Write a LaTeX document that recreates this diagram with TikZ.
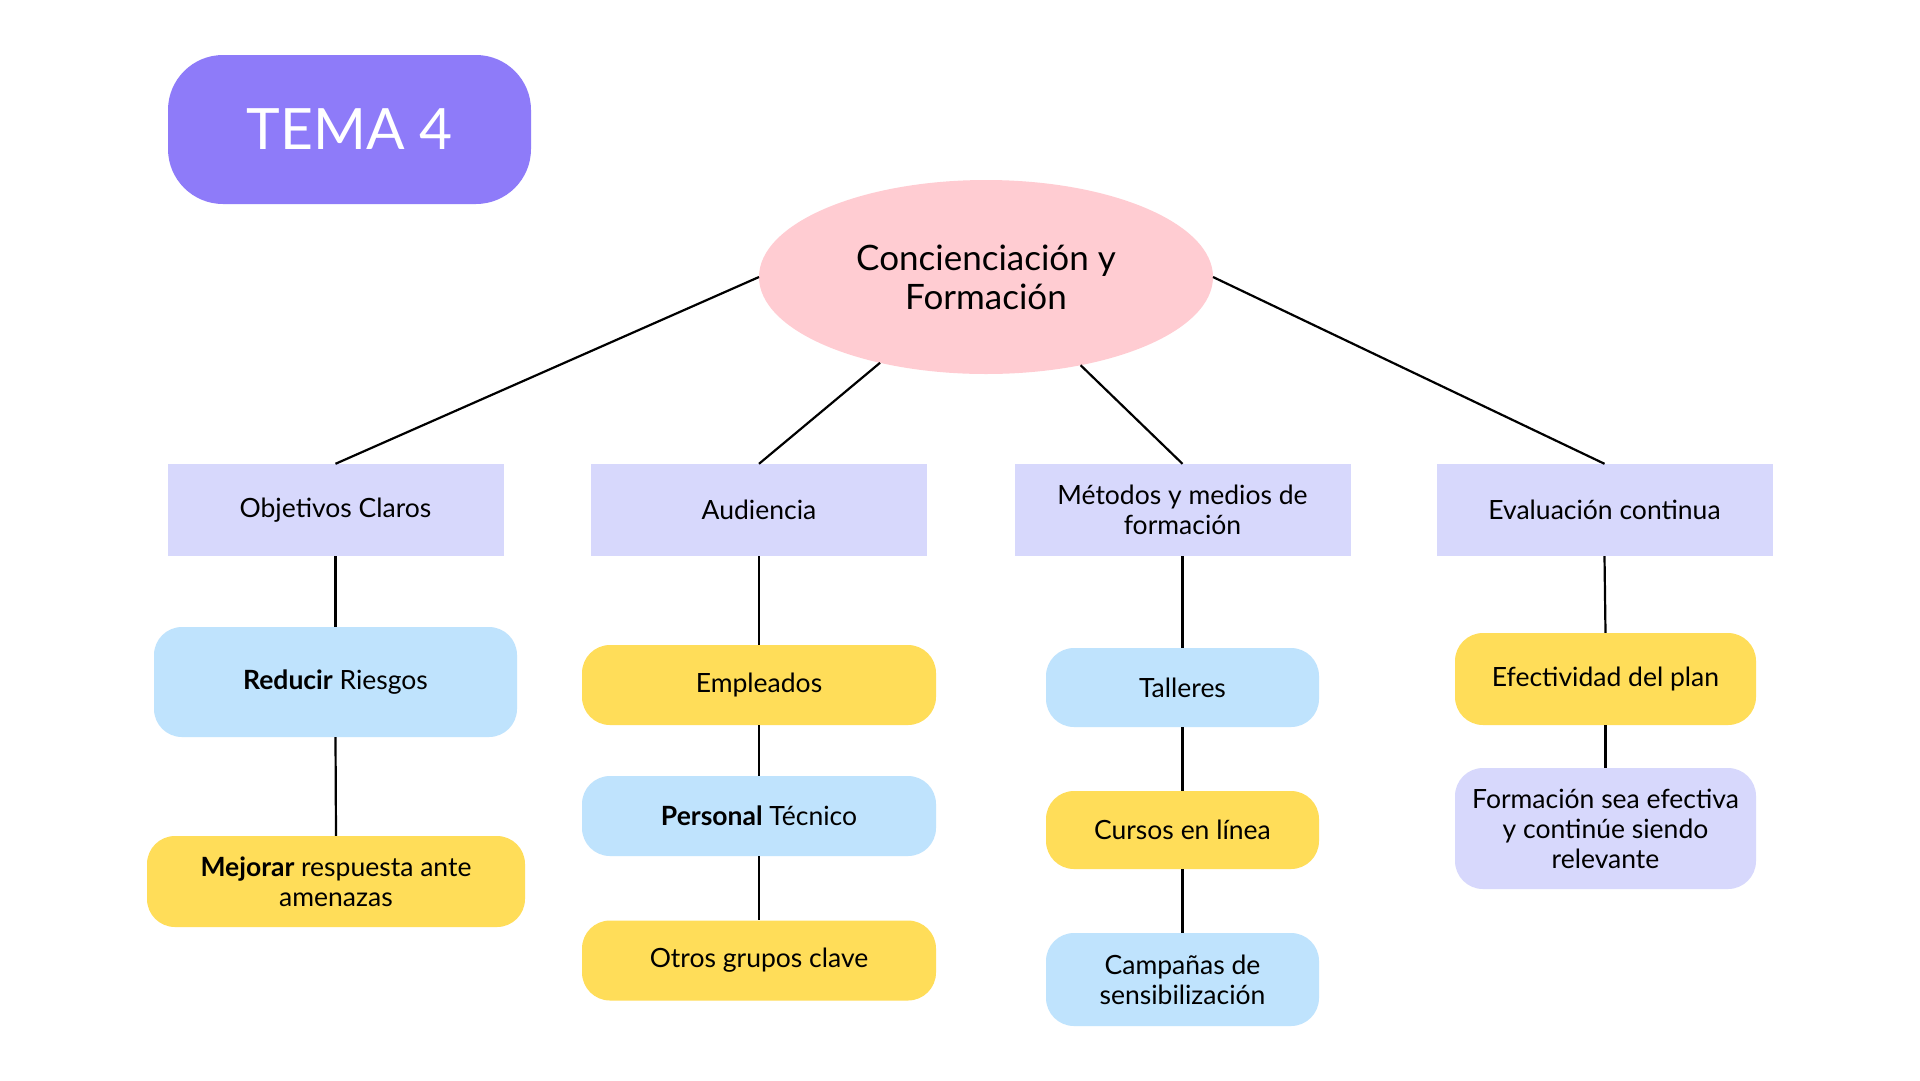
\documentclass[tikz,border=0pt]{standalone}
\usepackage{fontspec}
\setmainfont{Lato}
\usetikzlibrary{shapes.geometric}
\definecolor{cpurple}{HTML}{8E7BF9}
\definecolor{cpink}{HTML}{FFCCD2}
\definecolor{clav}{HTML}{D7D8FC}
\definecolor{cblue}{HTML}{BFE3FD}
\definecolor{cyellow}{HTML}{FFDD59}
\tikzset{
  lvlbox/.style={fill=clav, minimum width=336pt, minimum height=92pt, inner sep=0pt, align=center, font=\fontsize{26.5}{30}\selectfont},
  pill/.style={rounded corners=28pt, minimum height=80pt, inner sep=0pt, align=center, font=\fontsize{26.5}{30}\selectfont},
  conn/.style={line width=2.2pt, black}
}
\begin{document}
\begin{tikzpicture}[x=1pt,y=-1pt]
\useasboundingbox[fill=white] (0,0) rectangle (1920,1080);
% title
\node[fill=cpurple, rounded corners=55pt, minimum width=363pt, minimum height=149pt, inner sep=0pt, text=white, font=\fontsize{57}{60}\selectfont] (tema) at (349.5,129.5) {TEMA 4};
% central ellipse
\node[ellipse, fill=cpink, minimum width=454pt, minimum height=194pt, inner sep=0pt, outer sep=0pt, align=center, font=\fontsize{35}{39}\selectfont] (ell) at (986,277) {Concienciación y\\Formación};
% level 1
\node[lvlbox] (obj) at (335.5,510) {Objetivos Claros};
\node[lvlbox] (aud) at (759,510) {Audiencia};
\node[lvlbox] (met) at (1182.5,510) {Métodos y medios de\\formación};
\node[lvlbox] (eva) at (1604.5,510) {Evaluación continua};
% column 1
\node[pill, fill=cblue, minimum width=363pt, minimum height=110pt] (red) at (335.5,682) {\textbf{Reducir} Riesgos};
\node[pill, fill=cyellow, minimum width=378pt, minimum height=91pt] (mej) at (336,881.5) {\textbf{Mejorar} respuesta ante\\amenazas};
% column 2
\node[pill, fill=cyellow, minimum width=354pt] (emp) at (759,685) {Empleados};
\node[pill, fill=cblue, minimum width=354pt] (per) at (759,816) {\textbf{Personal} Técnico};
\node[pill, fill=cyellow, minimum width=354pt] (otr) at (759,960.5) {Otros grupos clave};
% column 3
\node[pill, fill=cblue, minimum width=273pt, minimum height=79pt] (tal) at (1182.5,687.5) {Talleres};
\node[pill, fill=cyellow, minimum width=273pt, minimum height=78pt] (cur) at (1182.5,830) {Cursos en línea};
\node[pill, fill=cblue, minimum width=273pt, minimum height=93pt] (cam) at (1182.5,979.5) {Campañas de\\sensibilización};
% column 4
\node[pill, fill=cyellow, minimum width=301pt, minimum height=92pt] (efe) at (1605.5,679) {Efectividad del plan};
\node[pill, fill=clav, minimum width=301pt, minimum height=121pt] (for) at (1605.5,828.5) {Formación sea efectiva\\y continúe siendo\\relevante};
% connectors
\draw[conn] (ell.west) -- (obj.north);
\draw[conn] (ell.219.5) -- (aud.north);
\draw[conn] (ell.-43.5) -- (met.north);
\draw[conn] (ell.east) -- (eva.north);
\draw[conn] (obj.south) -- (red.north);
\draw[conn] (red.south) -- (mej.north);
\draw[conn] (aud.south) -- (emp.north);
\draw[conn] (emp.south) -- (per.north);
\draw[conn] (per.south) -- (otr.north);
\draw[conn] (met.south) -- (tal.north);
\draw[conn] (tal.south) -- (cur.north);
\draw[conn] (cur.south) -- (cam.north);
\draw[conn] (eva.south) -- (efe.north);
\draw[conn] (efe.south) -- (for.north);
\end{tikzpicture}
\end{document}
